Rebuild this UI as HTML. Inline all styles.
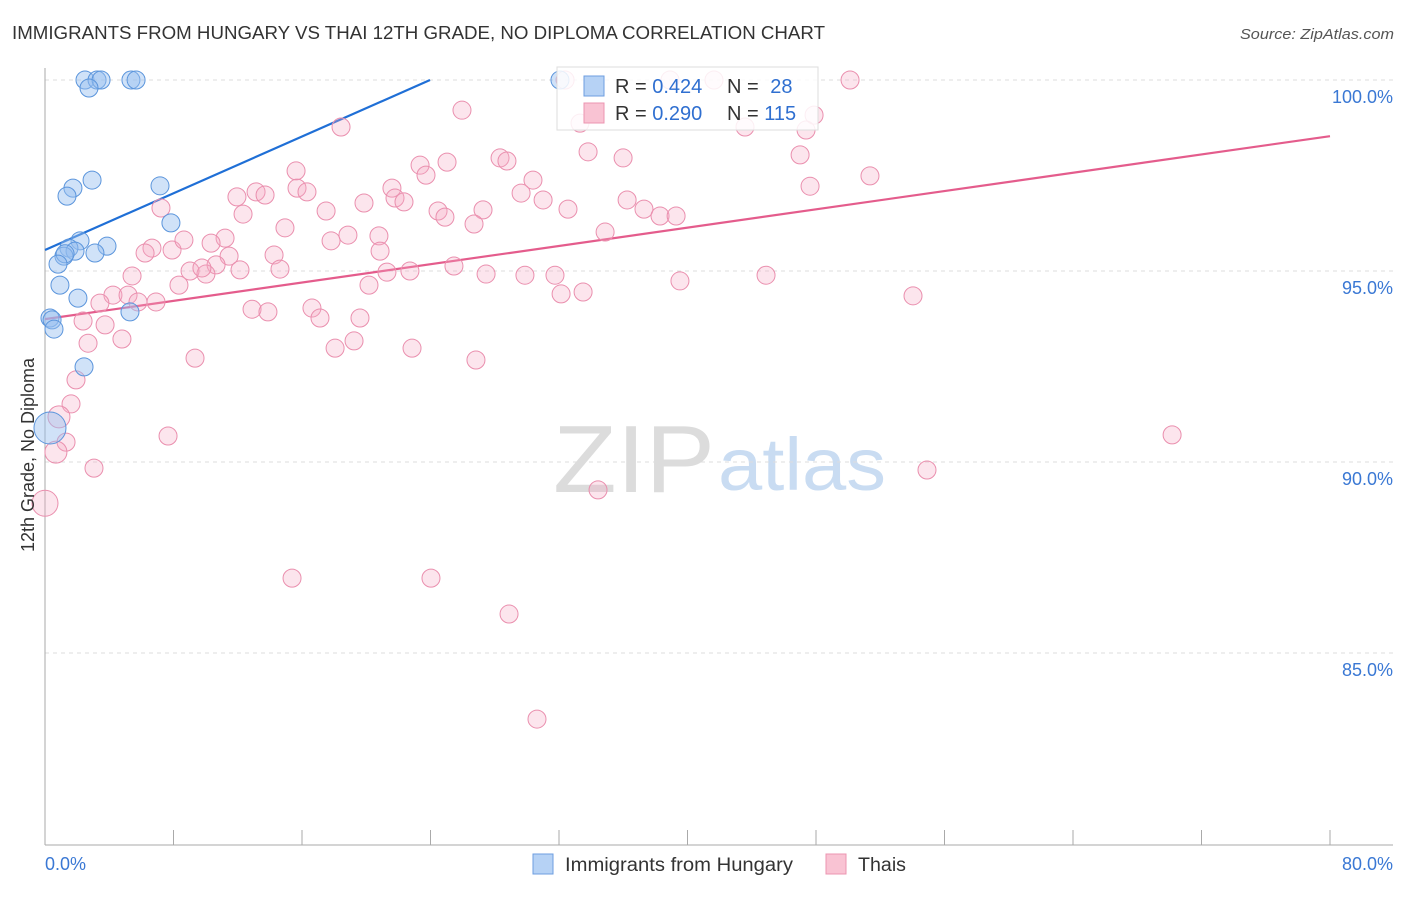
<!DOCTYPE html>
<html><head><meta charset="utf-8"><style>
body{margin:0;background:#fff;font-family:"Liberation Sans",sans-serif;}
svg text{font-family:"Liberation Sans",sans-serif;}
</style></head><body>
<svg id="chart" width="1406" height="892" viewBox="0 0 1406 892" xmlns="http://www.w3.org/2000/svg">
<text x="12" y="39" font-size="18" fill="#333" textLength="813" lengthAdjust="spacingAndGlyphs">IMMIGRANTS FROM HUNGARY VS THAI 12TH GRADE, NO DIPLOMA CORRELATION CHART</text>
<text x="1240" y="39" font-size="15" fill="#555" font-style="italic" textLength="154" lengthAdjust="spacingAndGlyphs">Source: ZipAtlas.com</text>
<g>
<text x="553" y="492" font-size="96" fill="#dcdcdc" font-family="Liberation Serif,serif" textLength="162" lengthAdjust="spacingAndGlyphs">ZIP</text>
<text x="718" y="490" font-size="74" fill="#c9dcf2" textLength="168" lengthAdjust="spacingAndGlyphs">atlas</text>
</g>
<g id="grid"></g>
<g id="axes"></g>
<g id="lines"></g>
<g id="points"></g>
<text transform="translate(34,455) rotate(-90)" font-size="18" fill="#333" text-anchor="middle">12th Grade, No Diploma</text>
<g>
<rect x="557" y="67" width="261" height="63" fill="#fff" fill-opacity="0.85" stroke="#ddd"/>
<rect x="584" y="76" width="20" height="20" fill="#b6d2f5" stroke="#6d9ee0"/>
<rect x="584" y="103" width="20" height="20" fill="#f9c3d3" stroke="#ec95b0"/>
<text x="615" y="93" font-size="20" fill="#333">R = <tspan fill="#2f6fd0">0.424</tspan></text>
<text x="727" y="93" font-size="20" fill="#333">N = <tspan fill="#2f6fd0" dx="6">28</tspan></text>
<text x="615" y="120" font-size="20" fill="#333">R = <tspan fill="#2f6fd0">0.290</tspan></text>
<text x="727" y="120" font-size="20" fill="#333">N = <tspan fill="#2f6fd0">115</tspan></text>
</g>
<g>
<rect x="533" y="854" width="20" height="20" fill="#b6d2f5" stroke="#6d9ee0"/>
<text x="565" y="871" font-size="19" fill="#333" textLength="228" lengthAdjust="spacingAndGlyphs">Immigrants from Hungary</text>
<rect x="826" y="854" width="20" height="20" fill="#f9c3d3" stroke="#ec95b0"/>
<text x="858" y="871" font-size="19" fill="#333" textLength="48" lengthAdjust="spacingAndGlyphs">Thais</text>
</g>
</svg>
<script>
const yTicks=[100,95,90,85];
const yTickLabels=["100.0%","95.0%","90.0%","85.0%"];
const xTickCount=10;
const xEndLabels=["0.0%","80.0%"];
const hungaryX=[2.49,3.24,3.49,5.35,5.67,2.74,32.06,2.93,1.74,1.37,7.16,7.84,2.18,1.49,1.87,3.86,3.11,1.18,1.25,0.81,0.93,2.05,5.29,0.31,0.44,0.56,2.43,0.31];
const hungaryY=[100,100,100,100,100,99.79,100,97.38,97.17,96.96,97.23,96.26,95.79,95.60,95.52,95.65,95.47,95.39,95.45,95.18,94.63,94.29,93.93,93.77,93.72,93.48,92.49,90.89];
const thaiX=[50.12,41.65,38.91,32.38,25.96,18.43,47.88,47.38,43.58,33.31,33.81,35.99,47.01,51.36,47.63,28.33,28.76,25.03,23.35,23.72,15.63,15.69,16.31,13.14,13.70,11.95,21.60,21.79,22.35,30.38,29.64,31.01,32.56,36.24,37.29,38.29,39.29,34.87,24.47,24.90,27.27,26.71,19.86,17.50,14.94,12.33,7.22,18.86,17.81,20.79,20.86,11.21,10.34,6.66,6.23,7.91,8.65,11.46,10.65,9.03,10.02,9.77,12.14,14.26,14.63,5.42,21.29,22.72,25.46,27.46,29.88,31.75,20.17,32.13,33.50,39.53,44.89,54.04,8.34,4.23,5.17,3.42,5.79,6.91,12.89,13.88,16.62,17.12,19.61,2.37,3.74,4.79,2.68,18.06,19.24,22.85,26.83,9.34,1.93,1.62,0.87,1.31,0.68,7.66,3.05,0,34.43,54.91,70.17,15.38,24.03,28.89,30.63];
const thaiY=[100,100,100,100,99.21,98.77,99.08,98.69,98.77,98.87,98.12,97.96,98.04,97.49,97.22,97.96,97.88,97.85,97.77,97.51,97.62,97.17,97.07,97.07,96.99,96.94,97.17,96.91,96.81,97.38,97.04,96.86,96.62,96.86,96.62,96.44,96.44,96.02,96.57,96.41,96.60,96.23,96.78,96.57,96.13,96.49,96.65,95.94,95.79,95.92,95.52,95.86,95.73,95.60,95.47,95.55,95.81,95.39,95.16,95.00,94.92,95.08,95.03,95.42,95.05,94.87,94.97,95.00,95.13,94.92,94.89,94.89,94.63,94.40,94.45,94.74,94.89,94.35,94.63,94.37,94.37,94.16,94.19,94.19,94.00,93.93,94.03,93.77,93.77,93.69,93.59,93.22,93.11,92.98,93.17,92.98,92.67,92.72,92.15,91.52,91.18,90.52,90.26,90.68,89.84,88.92,89.27,89.79,90.71,86.96,86.96,86.02,83.27];
const hungaryTrend=[0,95.55,23.97,100];
const thaiTrend=[0,93.74,80,98.53];

const NS="http://www.w3.org/2000/svg";
const X0=45,X1=1330,Y0=80,PX_PER_PCT=38.2;
function sx(v){return X0+(v/80)*(X1-X0);}
function sy(v){return Y0+(100-v)*PX_PER_PCT;}
function mk(tag,attrs,parent){const e=document.createElementNS(NS,tag);for(const k in attrs)e.setAttribute(k,attrs[k]);parent.appendChild(e);return e;}
const grid=document.getElementById('grid'),axes=document.getElementById('axes');
yTicks.forEach((t,i)=>{
  const l=mk('line',{x1:X0,x2:1393,y1:sy(t),y2:sy(t),stroke:'#ddd','stroke-dasharray':'4,4'},grid);
  
  
  const tx=mk('text',{x:1393,y:sy(t)+23,'font-size':18,fill:'#3a78d4','text-anchor':'end'},axes);
  tx.textContent=yTickLabels[i];
  
  
});
const ax=mk('line',{x1:X0,x2:X0,y1:68,y2:845,stroke:'#aaa'},axes);


const bx=mk('line',{x1:X0,x2:1393,y1:845,y2:845,stroke:'#aaa'},axes);


for(let i=0;i<=xTickCount;i++){
  const t=mk('line',{x1:sx(i*8),x2:sx(i*8),y1:830,y2:845,stroke:'#aaa'},axes);
  
  
}
[[0,'start',X0],[1,'end',1393]].forEach(([i,a,x])=>{
  const t=mk('text',{x:x,y:870,'font-size':18,fill:'#3a78d4','text-anchor':a},axes);
  t.textContent=xEndLabels[i];
  
  
});
const lines=document.getElementById('lines');
const lb=mk('line',{x1:sx(hungaryTrend[0]),y1:sy(hungaryTrend[1]),x2:sx(hungaryTrend[2]),y2:sy(hungaryTrend[3]),stroke:'#1f6fd6','stroke-width':2.2},lines);


const lp=mk('line',{x1:sx(thaiTrend[0]),y1:sy(thaiTrend[1]),x2:sx(thaiTrend[2]),y2:sy(thaiTrend[3]),stroke:'#e45c8c','stroke-width':2.2},lines);


const pts=document.getElementById('points');
thaiX.forEach((x,i)=>{
  const y=thaiY[i];
  const r=(x<1&&y<91.5)?(x===0?13:11):9;
  const c=mk('circle',{cx:sx(x),cy:sy(y),r:r,fill:'rgba(244,170,195,0.3)',stroke:'#ea8fae','stroke-width':1},pts);
  
  
});
hungaryX.forEach((x,i)=>{
  const y=hungaryY[i];
  const r=(y<91.5)?16:9;
  const c=mk('circle',{cx:sx(x),cy:sy(y),r:r,fill:'rgba(150,190,240,0.45)',stroke:'#5b95dc','stroke-width':1},pts);
  
  
});
</script>
</body></html>
